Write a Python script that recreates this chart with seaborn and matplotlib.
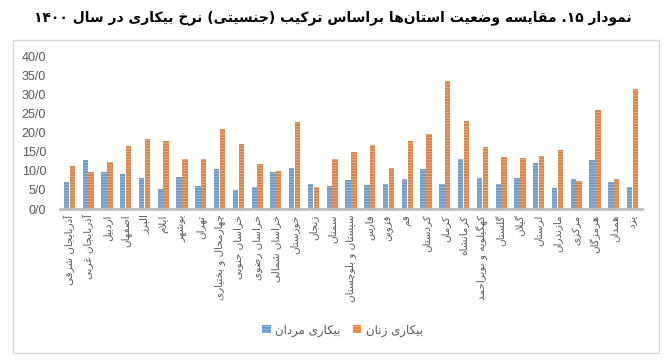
import re
import matplotlib
matplotlib.use("Agg")
import matplotlib.pyplot as plt
import seaborn as sns
import pandas as pd
from matplotlib.patches import Rectangle, Patch

# data
provinces = [
    "آذربایجان شرقی", "آذربایجان غربی", "اردبیل", "اصفهان", "البرز", "ایلام",
    "بوشهر", "تهران", "چهارمحال و بختیاری", "خراسان جنوبی", "خراسان رضوی",
    "خراسان شمالی", "خوزستان", "زنجان", "سمنان", "سیستان و بلوچستان", "فارس",
    "قزوین", "قم", "کردستان", "کرمان", "کرمانشاه", "کهگیلویه و بویراحمد",
    "گلستان", "گیلان", "لرستان", "مازندران", "مرکزی", "هرمزگان", "همدان", "یزد",
]
men = [7.0, 12.9, 9.7, 9.3, 8.1, 5.2, 8.4, 6.1, 10.6, 5.0, 5.8, 9.7, 10.9, 6.7,
       6.1, 7.7, 6.3, 6.5, 8.0, 10.5, 6.6, 13.2, 8.1, 6.5, 8.2, 12.2, 5.4, 7.9,
       12.9, 7.0, 5.7]
women = [11.3, 9.8, 12.3, 16.5, 18.5, 17.9, 13.1, 13.1, 20.9, 17.0, 11.7, 9.9,
         22.9, 5.7, 13.1, 14.9, 16.7, 10.7, 17.8, 19.7, 33.7, 23.1, 16.2, 13.7,
         13.5, 14.0, 15.5, 7.4, 26.1, 8.0, 31.5]
series = ["بیکاری مردان", "بیکاری زنان"]
yticks = [0, 5, 10, 15, 20, 25, 30, 35, 40]
title = "نمودار ۱۵. مقایسه وضعیت استان\u200cها براساس ترکیب (جنسیتی) نرخ بیکاری در سال ۱۴۰۰"

# --- minimal Persian shaping + RTL ordering (matplotlib has no text shaping) ---
FORMS = {  # isolated, final, initial, medial
    "ا": (0xFE8D, 0xFE8E, None, None), "آ": (0xFE81, 0xFE82, None, None),
    "ب": (0xFE8F, 0xFE90, 0xFE91, 0xFE92), "پ": (0xFB56, 0xFB57, 0xFB58, 0xFB59),
    "ت": (0xFE95, 0xFE96, 0xFE97, 0xFE98), "ث": (0xFE99, 0xFE9A, 0xFE9B, 0xFE9C),
    "ج": (0xFE9D, 0xFE9E, 0xFE9F, 0xFEA0), "چ": (0xFB7A, 0xFB7B, 0xFB7C, 0xFB7D),
    "ح": (0xFEA1, 0xFEA2, 0xFEA3, 0xFEA4), "خ": (0xFEA5, 0xFEA6, 0xFEA7, 0xFEA8),
    "د": (0xFEA9, 0xFEAA, None, None), "ذ": (0xFEAB, 0xFEAC, None, None),
    "ر": (0xFEAD, 0xFEAE, None, None), "ز": (0xFEAF, 0xFEB0, None, None),
    "ژ": (0xFB8A, 0xFB8B, None, None),
    "س": (0xFEB1, 0xFEB2, 0xFEB3, 0xFEB4), "ش": (0xFEB5, 0xFEB6, 0xFEB7, 0xFEB8),
    "ص": (0xFEB9, 0xFEBA, 0xFEBB, 0xFEBC), "ض": (0xFEBD, 0xFEBE, 0xFEBF, 0xFEC0),
    "ط": (0xFEC1, 0xFEC2, 0xFEC3, 0xFEC4), "ظ": (0xFEC5, 0xFEC6, 0xFEC7, 0xFEC8),
    "ع": (0xFEC9, 0xFECA, 0xFECB, 0xFECC), "غ": (0xFECD, 0xFECE, 0xFECF, 0xFED0),
    "ف": (0xFED1, 0xFED2, 0xFED3, 0xFED4), "ق": (0xFED5, 0xFED6, 0xFED7, 0xFED8),
    "ک": (0xFB8E, 0xFB8F, 0xFB90, 0xFB91), "گ": (0xFB92, 0xFB93, 0xFB94, 0xFB95),
    "ل": (0xFEDD, 0xFEDE, 0xFEDF, 0xFEE0), "م": (0xFEE1, 0xFEE2, 0xFEE3, 0xFEE4),
    "ن": (0xFEE5, 0xFEE6, 0xFEE7, 0xFEE8), "ه": (0xFEE9, 0xFEEA, 0xFEEB, 0xFEEC),
    "و": (0xFEED, 0xFEEE, None, None), "ی": (0xFBFC, 0xFBFD, 0xFBFE, 0xFBFF),
}
LAM_ALEF = {"ا": (0xFEFB, 0xFEFC), "آ": (0xFEF5, 0xFEF6)}


def shape(s):
    s = s.replace("ي", "ی").replace("ك", "ک")
    out, i, prev = [], 0, False
    while i < len(s):
        c = s[i]
        nxt = s[i + 1] if i + 1 < len(s) else ""
        if c not in FORMS:
            if c != "\u200c":
                out.append(c)
            prev = False
            i += 1
            continue
        if c == "ل" and nxt in LAM_ALEF:
            iso, fin = LAM_ALEF[nxt]
            out.append(chr(fin if prev else iso))
            prev = False
            i += 2
            continue
        iso, fin, ini, med = FORMS[c]
        to_next = ini is not None and nxt in FORMS
        g = med if (prev and to_next) else fin if prev else ini if to_next else iso
        out.append(chr(g))
        prev = ini is not None
        i += 1
    return "".join(out)


def rtl(s):
    tokens = re.findall(r"[0-9\u06F0-\u06F9]+|.", shape(s))
    mirror = {"(": ")", ")": "("}
    return "".join(mirror.get(t, t) for t in reversed(tokens))


df = pd.DataFrame({
    "province": provinces * 2,
    "value": men + women,
    "series": [series[0]] * len(men) + [series[1]] * len(women),
})

colors = {series[0]: "#5B9BD5", series[1]: "#ED7D31"}
stripes = {series[0]: "#9DC3E6", series[1]: "#F6B183"}

plt.rcParams["font.family"] = ["DejaVu Sans"]
plt.rcParams["hatch.linewidth"] = 0.6

fig = plt.figure(figsize=(6.69, 3.61), dpi=100)
ax = fig.add_axes([0.0897, 0.421, 0.8699, 0.422])

sns.barplot(data=df, x="province", y="value", hue="series", palette=colors,
            width=0.62, gap=0.08, legend=False, ax=ax)

for cont, name in zip(ax.containers, series):
    for bar in cont:
        bar.set_hatch("------")
        bar.set_edgecolor(stripes[name])
        bar.set_linewidth(0)

ax.set_xlim(-0.5, len(provinces) - 0.5)
ax.set_ylim(0, 40)
ax.set_yticks(yticks)
ax.set_yticklabels([f"{v:.1f}".replace(".", "/") for v in yticks],
                   fontsize=9, color="#595959", family="Liberation Sans")
ax.set_xticks(range(len(provinces)))
ax.set_xticklabels([rtl(p) for p in provinces], rotation=90, fontsize=7.5,
                   color="#595959")
ax.tick_params(axis="x", length=0, pad=4)
ax.tick_params(axis="y", length=0, pad=10)
ax.set_xlabel("")
ax.set_ylabel("")
for side in ["top", "right", "left"]:
    ax.spines[side].set_visible(False)
ax.spines["bottom"].set_color("#BFBFBF")
ax.spines["bottom"].set_linewidth(2)

handles = [Patch(facecolor=colors[s], edgecolor=stripes[s], hatch="------",
                 linewidth=0) for s in series]
fig.legend(handles, [rtl(s) for s in series], loc="center",
           bbox_to_anchor=(0.512, 1 - 330 / 361), ncol=2, frameon=False,
           fontsize=8.5, labelcolor="#595959", handlelength=0.7,
           handleheight=0.7, handletextpad=0.4, columnspacing=1.0)

fig.text(0.497, 1 - 18 / 361, rtl(title), ha="center", va="center",
         fontsize=10, fontweight="bold", color="black")

fig.patches.append(Rectangle((13 / 669, 1 - 353 / 361), 646 / 669, 313 / 361,
                             transform=fig.transFigure, fill=False,
                             edgecolor="#D9D9D9", linewidth=1))

fig.savefig("out.png", dpi=100)
